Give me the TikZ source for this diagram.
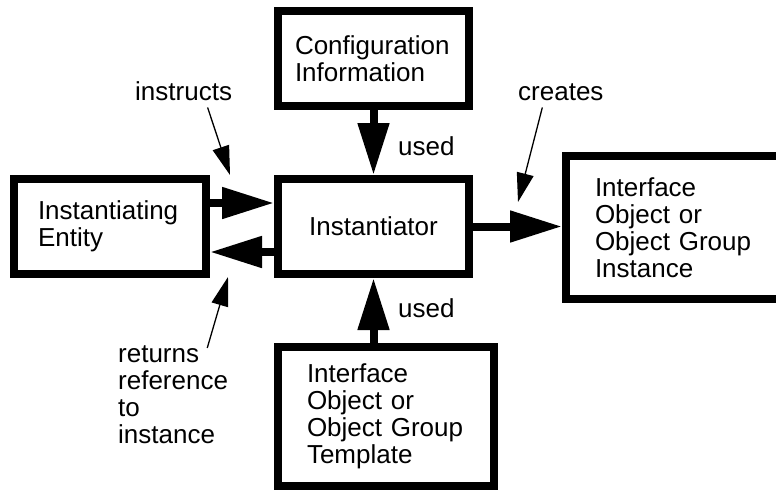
\documentclass[tikz,border=0pt]{standalone}
\usepackage{fontspec}
\setmainfont{Liberation Sans}
\usetikzlibrary{arrows.meta}

\tikzset{
  box/.style={draw,line width=8pt,align=left,inner sep=0pt},
  lbl/.style={inner sep=0pt,align=left},
  bigarrow/.style={line width=8pt,-{Triangle[length=52pt,width=30pt]}},
  callout/.style={line width=1.3pt,-{Triangle[length=29pt,width=17pt]}}
}

\begin{document}
\begin{tikzpicture}[x=1pt,y=-1pt,font=\fontsize{26pt}{27pt}\selectfont]
\useasboundingbox (0,0) rectangle (776,490);
% boxes
\node[box,minimum width=191pt,minimum height=95pt,text width=157pt] (config) at (373.5,58.5) {Configuration\\Information};
\node[box,minimum width=192pt,minimum height=95pt,text width=144pt] (entity) at (110,226.5) {Instantiating\\Entity};
\node[box,minimum width=191pt,minimum height=95pt,align=center] (inst) at (373.5,226.5) {Instantiator};
\node[box,minimum width=219pt,minimum height=143pt,text width=161pt] (instance) at (675.5,227.5) {Interface\\Object or\\Object Group\\Instance};
\node[box,minimum width=216pt,minimum height=139pt,text width=158pt] (tmpl) at (386,416.5) {Interface\\Object or\\Object Group\\Template};
% labels
\node[lbl,anchor=base west] (instructs) at (135,100) {instructs};
\node[lbl,anchor=base west] (creates) at (518,100) {creates};
\node[lbl,anchor=base west] (usedtop) at (398,155) {used};
\node[lbl,anchor=base west] (usedbot) at (398,317) {used};
\node[lbl,anchor=base west] (returns) at (118,443) {returns\\reference\\to\\instance};
\coordinate (instrtip) at (230,175);
\coordinate (createtip) at (518,202);
\coordinate (returntip) at (228,277);
% thick arrows
\draw[bigarrow] ([yshift=23.5pt]entity.east) -- ([yshift=23.5pt]inst.west);
\draw[bigarrow] ([yshift=-25.5pt]inst.west) -- ([yshift=-25.5pt]entity.east);
\draw[bigarrow] (config.south) -- (inst.north);
\draw[bigarrow] (tmpl.north -| inst.south) -- (inst.south);
\draw[bigarrow] (inst.east) -- (inst.east -| instance.west);
% thin arrows
\draw[callout] ([xshift=24pt,yshift=-7pt]instructs.south) -- (instrtip);
\draw[callout] ([xshift=-18.5pt,yshift=-7pt]creates.south) -- (createtip);
\draw[callout] ([xshift=-21pt,yshift=-3pt]returns.north east) -- (returntip);
\end{tikzpicture}
\end{document}
